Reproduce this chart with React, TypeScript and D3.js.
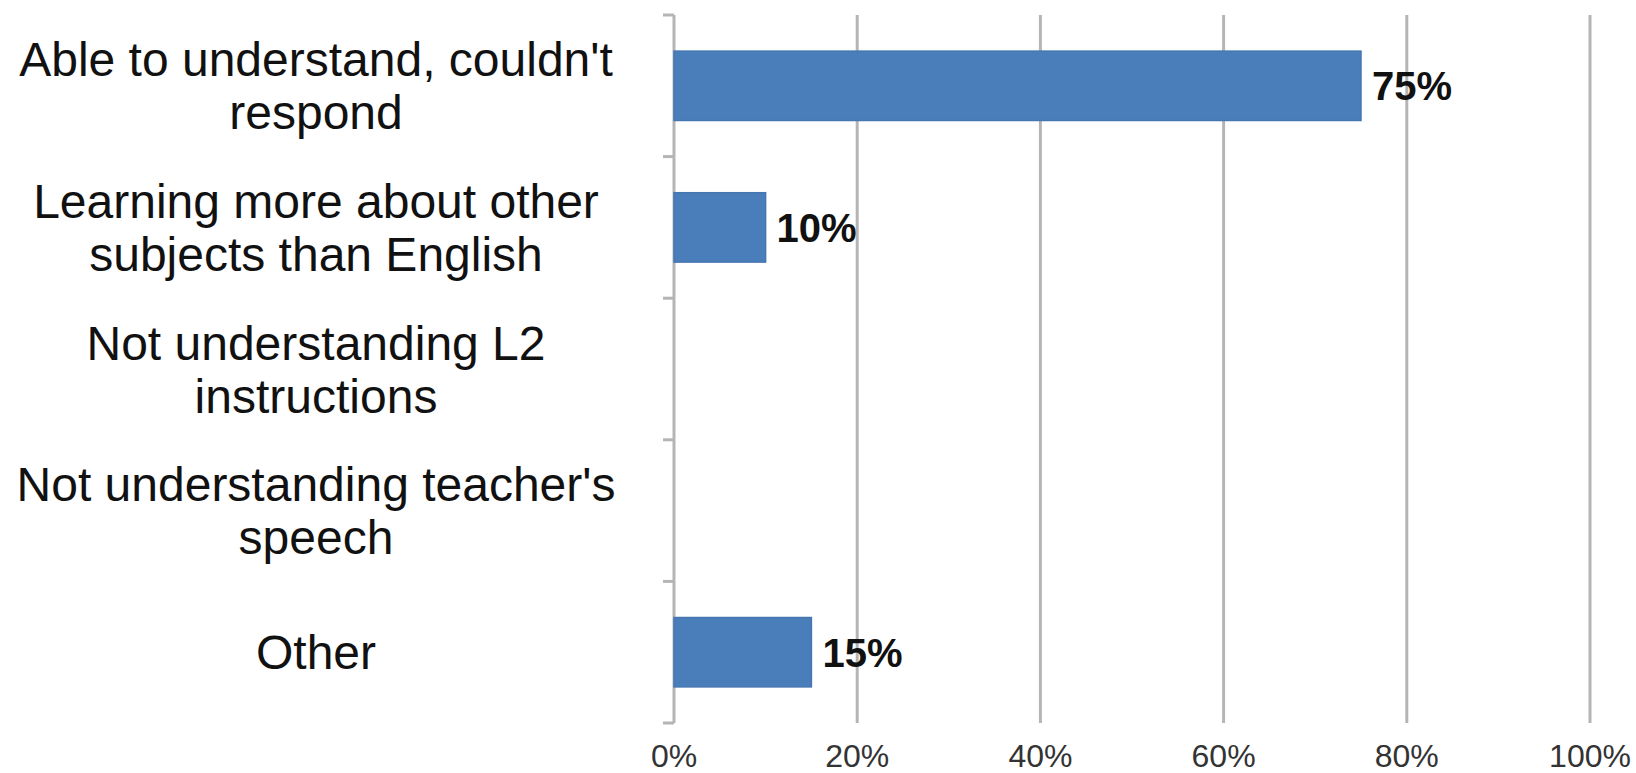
import React from "react";
import * as d3 from "d3";

const categories: string[][] = [
  ["Able to understand, couldn't", "respond"],
  ["Learning more about other", "subjects than English"],
  ["Not understanding L2", "instructions"],
  ["Not understanding teacher's", "speech"],
  ["Other"],
];
const values: (number | null)[] = [75, 10, null, null, 15];
const xTicks: number[] = [0, 20, 40, 60, 80, 100];

const W = 1636;
const H = 773;
const FONT = "'Liberation Sans', Arial, sans-serif";

export default function App() {
  const x = d3.scaleLinear().domain([0, 100]).range([674, 1590]);
  const y = d3
    .scaleBand<number>()
    .domain(categories.map((_, i) => i))
    .range([15, 723])
    .padding(0);
  const bw = y.bandwidth();
  const barH = bw * 0.49;
  const grid = "#b5b5b5";
  const boundaries = d3.range(categories.length + 1).map((i) => 15 + i * bw);

  return (
    <svg
      width={W}
      height={H}
      style={{ position: "absolute", left: 0, top: 0, background: "#fff" }}
      fontFamily={FONT}
    >
      {/* gridlines */}
      {xTicks.slice(1).map((t) => (
        <line key={t} x1={x(t)} x2={x(t)} y1={15} y2={723} stroke={grid} strokeWidth={3} />
      ))}
      {/* axis */}
      <line x1={x(0)} x2={x(0)} y1={15} y2={723} stroke={grid} strokeWidth={3} />
      {boundaries.map((b, i) => (
        <line key={i} x1={x(0) - 11} x2={x(0)} y1={b} y2={b} stroke={grid} strokeWidth={3} />
      ))}
      {/* bars */}
      {values.map((v, i) =>
        v == null ? null : (
          <g key={i}>
            <rect
              x={x(0)}
              y={(y(i) as number) + bw / 2 - barH / 2}
              width={x(v) - x(0)}
              height={barH}
              fill="#4a7ebb"
              stroke="#4676b0"
              strokeWidth={1.5}
            />
            <text
              x={x(v) + 11}
              y={(y(i) as number) + bw / 2 + 14.5}
              fontSize={40}
              fontWeight="bold"
              fill="#111"
            >
              {v}%
            </text>
          </g>
        )
      )}
      {/* category labels */}
      {categories.map((lines, i) => {
        const c = (y(i) as number) + bw / 2;
        const L = 53;
        const start = c + 17 - ((lines.length - 1) * L) / 2;
        return (
          <text key={i} x={316} textAnchor="middle" fontSize={48} fill="#111">
            {lines.map((ln, j) => (
              <tspan key={j} x={316} y={start + j * L}>
                {ln}
              </tspan>
            ))}
          </text>
        );
      })}
      {/* x tick labels */}
      {xTicks.map((t) => (
        <text key={t} x={x(t)} y={767} textAnchor="middle" fontSize={32} fill="#333">
          {t}%
        </text>
      ))}
    </svg>
  );
}
